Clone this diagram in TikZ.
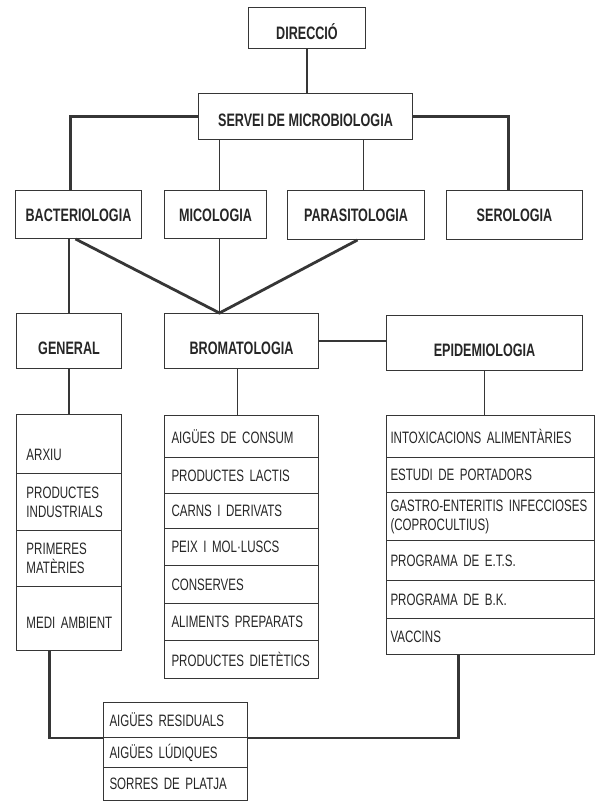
\documentclass[tikz,border=0pt]{standalone}
\usepackage{fontspec}
\setmainfont{Liberation Sans}[FakeStretch=0.70]
\definecolor{ink}{HTML}{262626}
\definecolor{ln}{HTML}{363636}
\begin{document}
\begin{tikzpicture}[x=1pt,y=-1pt,
  hdr/.style={draw=ln, line width=1pt, inner sep=0pt, anchor=north west,
    font=\fontsize{18}{21}\selectfont\bfseries, text=ink, text depth=0pt},
  cell/.style={draw=ln, line width=1pt, anchor=north west, inner ysep=0pt,
    align=left, font=\fontsize{16.5}{19}\selectfont, text=ink},
  gcell/.style={cell, inner xsep=10pt, text width=85pt},
  bcell/.style={cell, inner xsep=7pt, text width=140pt},
  ecell/.style={cell, inner xsep=4pt, text width=200pt},
  acell/.style={cell, inner xsep=6pt, text width=132pt},
  thin/.style={draw=ln, line width=1.3pt},
  med/.style={draw=ln, line width=1.7pt},
  heavy/.style={draw=ln, line width=2.8pt},
]
\fill[white] (0,0) rectangle (595,801);
\useasboundingbox (0,0) rectangle (595,801);

% headers
\node[hdr, minimum width=117pt, minimum height=41pt, text height=23pt] (dir) at (248,7) {DIRECCIÓ};
\node[hdr, minimum width=214pt, minimum height=46pt, text height=20pt] (serv) at (198,93) {SERVEI DE MICROBIOLOGIA};
\node[hdr, minimum width=126pt, minimum height=48pt, text height=13pt] (bact) at (15,190) {BACTERIOLOGIA};
\node[hdr, minimum width=102pt, minimum height=48pt, text height=13pt] (mico) at (164,190) {MICOLOGIA};
\node[hdr, minimum width=137pt, minimum height=49pt, text height=13pt] (para) at (287,190) {PARASITOLOGIA};
\node[hdr, minimum width=136pt, minimum height=49pt, text height=13pt] (sero) at (446,190) {SEROLOGIA};
\node[hdr, minimum width=105pt, minimum height=55pt, text height=26pt] (gen) at (16,313) {GENERAL};
\node[hdr, minimum width=154pt, minimum height=55pt, text height=26pt] (brom) at (164,313) {BROMATOLOGIA};
\node[hdr, minimum width=196pt, minimum height=55pt, text height=26pt] (epid) at (386,315) {EPIDEMIOLOGIA};

% general list
\node[gcell, minimum height=59pt, text height=32pt, text depth=0pt] (g1) at (16,414) {\mbox{ARXIU}};
\node[gcell, minimum height=57pt] (g2) at (16,473) {\mbox{PRODUCTES}\\\mbox{INDUSTRIALS}};
\node[gcell, minimum height=56pt] (g3) at (16,530) {\mbox{PRIMERES}\\\mbox{MATÈRIES}};
\node[gcell, minimum height=64pt, text height=20pt, text depth=0pt] (g4) at (16,586) {\mbox{MEDI AMBIENT}};

% bromatologia list
\node[bcell, minimum height=42pt] (b1) at (164,415) {\mbox{AIGÜES DE CONSUM}};
\node[bcell, minimum height=36pt] (b2) at (164,457) {\mbox{PRODUCTES LACTIS}};
\node[bcell, minimum height=35pt] (b3) at (164,493) {\mbox{CARNS I DERIVATS}};
\node[bcell, minimum height=37pt] (b4) at (164,528) {\mbox{PEIX I MOL·LUSCS}};
\node[bcell, minimum height=38pt] (b5) at (164,565) {\mbox{CONSERVES}};
\node[bcell, minimum height=37pt] (b6) at (164,603) {\mbox{ALIMENTS PREPARATS}};
\node[bcell, minimum height=38pt] (b7) at (164,640) {\mbox{PRODUCTES DIETÈTICS}};

% epidemiologia list
\node[ecell, minimum height=42pt] (e1) at (386,415) {\mbox{INTOXICACIONS ALIMENTÀRIES}};
\node[ecell, minimum height=35pt] (e2) at (386,457) {\mbox{ESTUDI DE PORTADORS}};
\node[ecell, minimum height=48pt] (e3) at (386,492) {\mbox{GASTRO-ENTERITIS INFECCIOSES}\\\mbox{(COPROCULTIUS)}};
\node[ecell, minimum height=40pt] (e4) at (386,540) {\mbox{PROGRAMA DE E.T.S.}};
\node[ecell, minimum height=38pt] (e5) at (386,580) {\mbox{PROGRAMA DE B.K.}};
\node[ecell, minimum height=36pt] (e6) at (386,618) {\mbox{VACCINS}};

% shared list
\node[acell, minimum height=35pt] (a1) at (103,702) {\mbox{AIGÜES RESIDUALS}};
\node[acell, minimum height=30pt] (a2) at (103,737) {\mbox{AIGÜES LÚDIQUES}};
\node[acell, minimum height=33pt] (a3) at (103,767) {\mbox{SORRES DE PLATJA}};

% attachment points
\coordinate (mt) at ([xshift=4pt]mico.north);
\coordinate (pt) at ([xshift=7.5pt]para.north);
\coordinate (bt) at ([xshift=-8pt]bact.north);
\coordinate (st) at ([xshift=-6pt]sero.north);
\coordinate (hub) at ([xshift=-22pt]brom.north);
\coordinate (bd) at ([xshift=-3pt]bact.south);
\coordinate (pd) at ([xshift=1.5pt]para.south);
\coordinate (bl) at ([xshift=-4pt]brom.south);
\coordinate (gd) at ([xshift=-19.5pt]g4.south);
\coordinate (ed) at ([xshift=-32pt]e6.south);

% connectors
\draw[thin] (dir.south) -- (dir.south |- serv.north);
\draw[heavy] (serv.west) -| (bt);
\draw[heavy] (serv.east) -| (st);
\draw[med] (mt |- serv.south) -- (mt);
\draw[med] (pt |- serv.south) -- (pt);
\draw[med] (gen.north) -- (gen.north |- bact.south);
\draw[heavy] (bd) -- (hub) -- (pd);
\draw[med] (hub |- mico.south) -- (hub);
\draw[heavy] (brom.east) -- (brom.east -| epid.west);
\draw[med] (gen.south) -- (g1.north);
\draw[med] (bl) -- (bl |- b1.north);
\draw[med] (epid.south) -- (epid.south |- e1.north);
\draw[heavy] (gd) |- (a1.south west);
\draw[heavy] (a1.south east) -| (ed);
\end{tikzpicture}
\end{document}
